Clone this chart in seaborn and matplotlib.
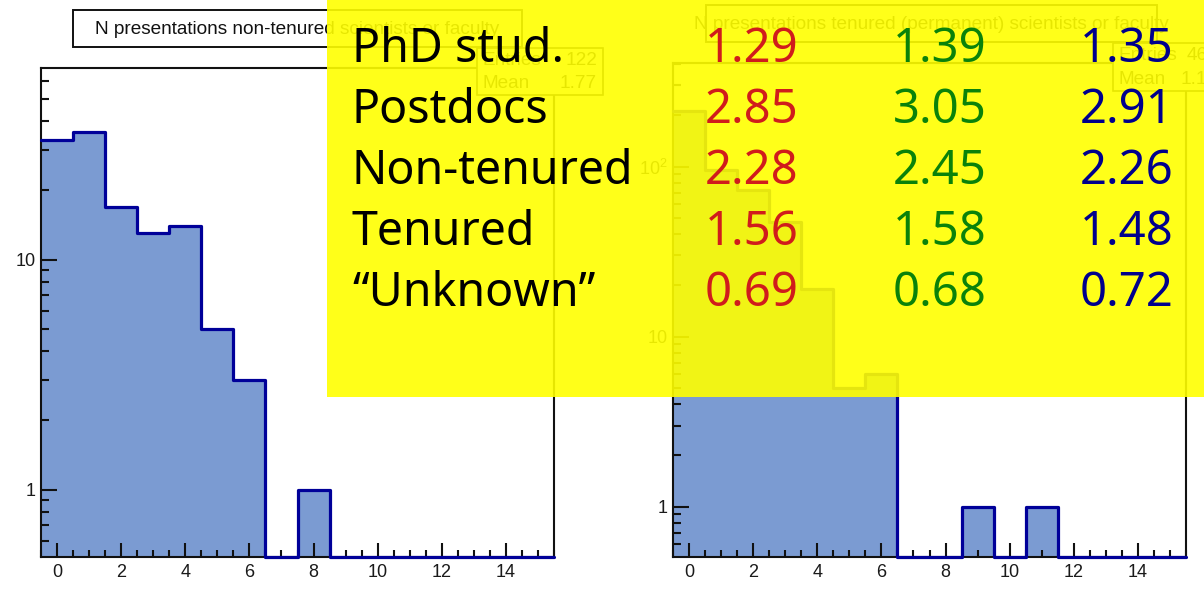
import numpy as np
import pandas as pd
import matplotlib
matplotlib.use("Agg")
import matplotlib.pyplot as plt
import matplotlib.ticker as mticker
from matplotlib.patches import Rectangle
import seaborn as sns

# Histogram data: counts per number of presentations (bins centred on 0..15)
n_pres = np.arange(0, 16)
nontenured_counts = [33, 36, 17, 13, 14, 5, 3, 0, 1, 0, 0, 0, 0, 0, 0, 0]
tenured_counts = [213, 96, 73, 47, 19, 5, 6, 0, 0, 1, 0, 1, 0, 0, 0, 0]

titles = ["N presentations non-tenured scientists or faculty",
          "N presentations tenured (permanent) scientists or faculty"]
entries = [122, 461]
means = [1.77, 1.17]

# Summary table on the yellow overlay
categories = ["PhD stud.", "Postdocs", "Non-tenured", "Tenured", "\u201cUnknown\u201d"]
col_red = [1.29, 2.85, 2.28, 1.56, 0.69]
col_green = [1.39, 3.05, 2.45, 1.58, 0.68]
col_blue = [1.35, 2.91, 2.26, 1.48, 0.72]

sns.set_style("ticks")
plt.rcParams['font.family'] = ['Liberation Sans', 'DejaVu Sans']
plt.rcParams['mathtext.default'] = 'regular'
plt.rcParams['axes.axisbelow'] = False

W, H = 1204, 597
fig = plt.figure(figsize=(W / 100, H / 100), dpi=100)

FILL = '#7b9bd2'
EDGE = '#000099'
ROOT_FS = 13.7


def px_axes(x0, y0, x1, y1):
    return fig.add_axes([x0 / W, 1 - y1 / H, (x1 - x0) / W, (y1 - y0) / H])


def log_label(v, pos):
    if v == 1:
        return '1'
    if v == 10:
        return '10'
    return r'$10^{%d}$' % round(np.log10(v))


panels = [
    dict(counts=nontenured_counts, frame=(41, 68, 554, 557), ylim=(0.51, 68)),
    dict(counts=tenured_counts, frame=(673, 63, 1186, 557), ylim=(0.506, 406)),
]

for p in panels:
    ax = px_axes(*p['frame'])
    ymin = p['ylim'][0]
    df = pd.DataFrame({'n': n_pres, 'count': p['counts']})
    # ROOT draws empty bins along the bottom of a log axis
    df['drawn'] = df['count'].clip(lower=ymin)
    sns.histplot(data=df, x='n', weights='count', binwidth=1, binrange=(-0.5, 15.5),
                 element='step', fill=True, color=FILL, alpha=1,
                 linewidth=0, ax=ax)
    sns.histplot(data=df, x='n', weights='drawn', binwidth=1, binrange=(-0.5, 15.5),
                 element='step', fill=False, color=EDGE, linewidth=2.3,
                 ax=ax, zorder=3, clip_on=False)
    ax.set_axisbelow(False)
    ax.set_yscale('log')
    ax.set_ylim(*p['ylim'])
    ax.set_xlim(-0.5, 15.5)
    ax.set_xlabel('')
    ax.set_ylabel('')
    ax.xaxis.set_major_locator(mticker.MultipleLocator(2))
    ax.xaxis.set_minor_locator(mticker.MultipleLocator(0.5))
    ax.yaxis.set_major_locator(mticker.LogLocator(base=10))
    ax.yaxis.set_minor_locator(mticker.LogLocator(base=10, subs=np.arange(2, 10)))
    ax.yaxis.set_major_formatter(mticker.FuncFormatter(log_label))
    ax.yaxis.set_minor_formatter(mticker.NullFormatter())
    ax.tick_params(axis='both', which='both', direction='in', width=1.5,
                   color='#111111', labelcolor='#1a1a1a', labelsize=13,
                   bottom=True, left=True, top=False, right=False)
    ax.tick_params(axis='x', which='major', length=10, pad=5)
    ax.tick_params(axis='x', which='minor', length=5)
    ax.tick_params(axis='y', which='major', length=11.5, pad=4)
    ax.tick_params(axis='y', which='minor', length=6)
    for s in ax.spines.values():
        s.set_visible(True)
        s.set_linewidth(1.5)
        s.set_color('#111111')

# Overlay in figure pixel coordinates: ROOT title/stats boxes, yellow table
ov = fig.add_axes([0, 0, 1, 1])
ov.set_xlim(0, W)
ov.set_ylim(H, 0)
ov.axis('off')
ov.patch.set_alpha(0)

title_boxes = [(73, 10, 522, 47), (706, 5, 1157, 42)]
for (x0, y0, x1, y1), t in zip(title_boxes, titles):
    ov.add_patch(Rectangle((x0, y0), x1 - x0, y1 - y0, facecolor='white',
                           edgecolor='#111111', linewidth=1.4, zorder=1))
    ov.text((x0 + x1) / 2, (y0 + y1) / 2 + 1, t, ha='center', va='center',
            fontsize=ROOT_FS, color='#111111', zorder=1.5)

stats_boxes = [(477, 48, 603, 95, 597), (1113, 43, 1260, 91, 1218)]
for (x0, y0, x1, y1, xr), n, m in zip(stats_boxes, entries, means):
    ov.add_patch(Rectangle((x0, y0), x1 - x0, y1 - y0, facecolor='white',
                           edgecolor='#111111', linewidth=1.2, zorder=1))
    ym = (y0 + y1) / 2
    ov.text(x0 + 6, ym - 11, 'Entries', ha='left', va='center', fontsize=ROOT_FS, color='#111111', zorder=1.5)
    ov.text(xr, ym - 11, f'{n}', ha='right', va='center', fontsize=ROOT_FS, color='#111111', zorder=1.5)
    ov.text(x0 + 6, ym + 12, 'Mean', ha='left', va='center', fontsize=ROOT_FS, color='#111111', zorder=1.5)
    ov.text(xr, ym + 12, f'{m:.2f}', ha='right', va='center', fontsize=ROOT_FS, color='#111111', zorder=1.5)

ov.add_patch(Rectangle((327, 0), W - 327, 397, facecolor='#ffff00', alpha=0.9,
                       edgecolor='none', zorder=2))

baselines = [62, 123, 184, 245, 306]
num_cols = [(705, col_red, '#d01c1c'), (893, col_green, '#0a820a'), (1080, col_blue, '#00008c')]
for i, b in enumerate(baselines):
    ov.text(352, b, categories[i], ha='left', va='baseline', fontsize=33.5,
            family=['Noto Sans', 'DejaVu Sans'], color='black', zorder=3)
    for x, vals, c in num_cols:
        ov.text(x, b, f'{vals[i]:.2f}', ha='left', va='baseline', fontsize=34,
                family=['Noto Sans', 'DejaVu Sans'], color=c, zorder=3)

fig.savefig('out.png', dpi=100)
